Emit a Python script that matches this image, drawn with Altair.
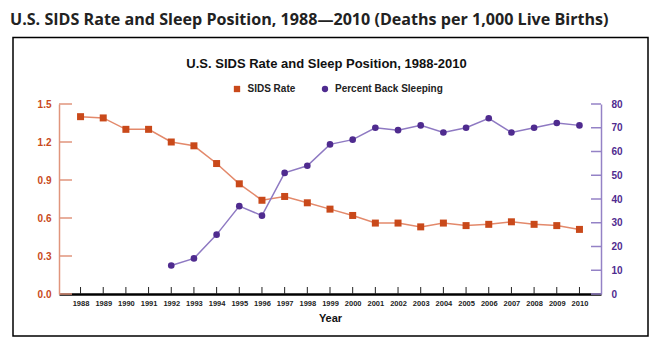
import altair as alt
import pandas as pd

# ---------------- data ----------------
years = list(range(1988, 2011))
sids_rate = [1.40, 1.39, 1.30, 1.30, 1.20, 1.17, 1.03, 0.87, 0.74, 0.77, 0.72, 0.67,
             0.62, 0.56, 0.56, 0.53, 0.56, 0.54, 0.55, 0.57, 0.55, 0.54, 0.51]
back_years = list(range(1992, 2011))
back_pct = [12, 15, 25, 37, 33, 51, 54, 63, 65, 70, 69, 71, 68, 70, 74, 68, 70, 72, 71]
left_ticks = [0.0, 0.3, 0.6, 0.9, 1.2, 1.5]
right_ticks = [0, 10, 20, 30, 40, 50, 60, 70, 80]
heading = "U.S. SIDS Rate and Sleep Position, 1988\u20142010 (Deaths per 1,000 Live Births)"
chart_title = "U.S. SIDS Rate and Sleep Position, 1988-2010"
legend_labels = ["SIDS Rate", "Percent Back Sleeping"]
x_title = "Year"

# ---------------- style ----------------
W, H = 542, 190
ORANGE = "#c9491a"
ORANGE_LINE = "#e3896b"
ORANGE_AXIS = "#e0957c"
PURPLE = "#4f2b8f"
PURPLE_LINE = "#8e79c2"
PURPLE_AXIS = "#9482c6"
FONT = "Liberation Sans"

sids_df = pd.DataFrame({"year": years, "rate": sids_rate})
back_df = pd.DataFrame({"year": back_years, "pct": back_pct})
year_df = pd.DataFrame({"year": years})
lt_df = pd.DataFrame({"rate": left_ticks})
rt_df = pd.DataFrame({"pct": right_ticks})

xscale = alt.Scale(type="point", domain=years, padding=0.95)
xenc = alt.X("year:O", scale=xscale,
             axis=alt.Axis(title=x_title, labelAngle=0, ticks=False, domainColor="black",
                           domainWidth=2.5, labelFont=FONT, labelFontSize=7.5,
                           labelFontWeight="bold", labelColor="#222", labelPadding=5,
                           titleFont=FONT, titleFontSize=11, titleFontWeight="bold",
                           titleColor="#111", titlePadding=6))

yleft = alt.Y("rate:Q", scale=alt.Scale(domain=[0, 1.5], nice=False),
              axis=alt.Axis(values=left_ticks, format=".1f", title=None, grid=False,
                            ticks=False, domainColor=ORANGE_AXIS, domainWidth=1.5,
                            labelColor=ORANGE, labelFont=FONT, labelFontSize=10,
                            labelFontWeight="bold", labelPadding=8))
yright = alt.Y("pct:Q", scale=alt.Scale(domain=[0, 80], nice=False),
               axis=alt.Axis(orient="right", values=right_ticks, title=None, grid=False,
                             ticks=False, domainColor=PURPLE_AXIS, domainWidth=1.5,
                             labelColor=PURPLE, labelFont=FONT, labelFontSize=10,
                             labelFontWeight="bold", labelPadding=10))

# left (SIDS) layer
sids_line = alt.Chart(sids_df).mark_line(color=ORANGE_LINE, strokeWidth=1.5).encode(x=xenc, y=yleft)
sids_pts = alt.Chart(sids_df).mark_point(shape="square", filled=True, color=ORANGE, size=49,
                                         opacity=1).encode(x=xenc, y=yleft)
lticks = alt.Chart(lt_df).mark_rule(color=ORANGE_AXIS, strokeWidth=1.5).encode(
    y=yleft, x=alt.value(0), x2=alt.value(13))
xticks = alt.Chart(year_df).mark_rule(color="#222", strokeWidth=1).encode(
    x=xenc, y=alt.value(H), y2=alt.value(H - 7))
left = alt.layer(sids_line, lticks, xticks, sids_pts)

# right (back sleeping) layer
back_line = alt.Chart(back_df).mark_line(color=PURPLE_LINE, strokeWidth=1.5).encode(x=xenc, y=yright)
back_pts = alt.Chart(back_df).mark_point(shape="circle", filled=True, color=PURPLE, size=44,
                                         opacity=1).encode(x=xenc, y=yright)
rticks = alt.Chart(rt_df).mark_rule(color=PURPLE_AXIS, strokeWidth=1.5).encode(
    y=yright, x=alt.value(W - 10), x2=alt.value(W))
right = alt.layer(back_line, rticks, back_pts)

# decorations
one = pd.DataFrame({"a": [0]})
box = alt.Chart(one).mark_rect(filled=False, stroke="black", strokeWidth=1.5).encode(
    x=alt.value(-46), x2=alt.value(589), y=alt.value(-66.5), y2=alt.value(232))
head = alt.Chart(pd.DataFrame({"t": [heading]})).mark_text(
    align="left", baseline="alphabetic", font="Open Sans", fontSize=16.1, fontWeight="bold",
    color="#222").encode(text="t:N", x=alt.value(-49), y=alt.value(-79))
ttl = alt.Chart(pd.DataFrame({"t": [chart_title]})).mark_text(
    align="center", baseline="alphabetic", font=FONT, fontSize=13, fontWeight="bold",
    color="#111").encode(text="t:N", x=alt.value(267.5), y=alt.value(-36))
leg_sq = alt.Chart(one).mark_point(shape="square", filled=True, color=ORANGE, size=40, opacity=1).encode(
    x=alt.value(178), y=alt.value(-15))
leg_ci = alt.Chart(one).mark_point(shape="circle", filled=True, color=PURPLE, size=40, opacity=1).encode(
    x=alt.value(266), y=alt.value(-15))
leg_t1 = alt.Chart(pd.DataFrame({"t": [legend_labels[0]]})).mark_text(
    align="left", baseline="middle", font=FONT, fontSize=10, fontWeight="bold", color="#222").encode(
    text="t:N", x=alt.value(188.5), y=alt.value(-15))
leg_t2 = alt.Chart(pd.DataFrame({"t": [legend_labels[1]]})).mark_text(
    align="left", baseline="middle", font=FONT, fontSize=10, fontWeight="bold", color="#222").encode(
    text="t:N", x=alt.value(276), y=alt.value(-15))

chart = alt.layer(box, head, ttl, leg_sq, leg_ci, leg_t1, leg_t2, left, right).resolve_scale(
    y="independent"
).properties(
    width=W, height=H,
    padding={"left": 59, "top": 104, "right": 56, "bottom": 52},
    autosize=alt.AutoSizeParams(type="none"),
    background="white",
).configure_view(stroke=None)

chart.save("out.html", embed_options={"renderer": "svg", "actions": False})
